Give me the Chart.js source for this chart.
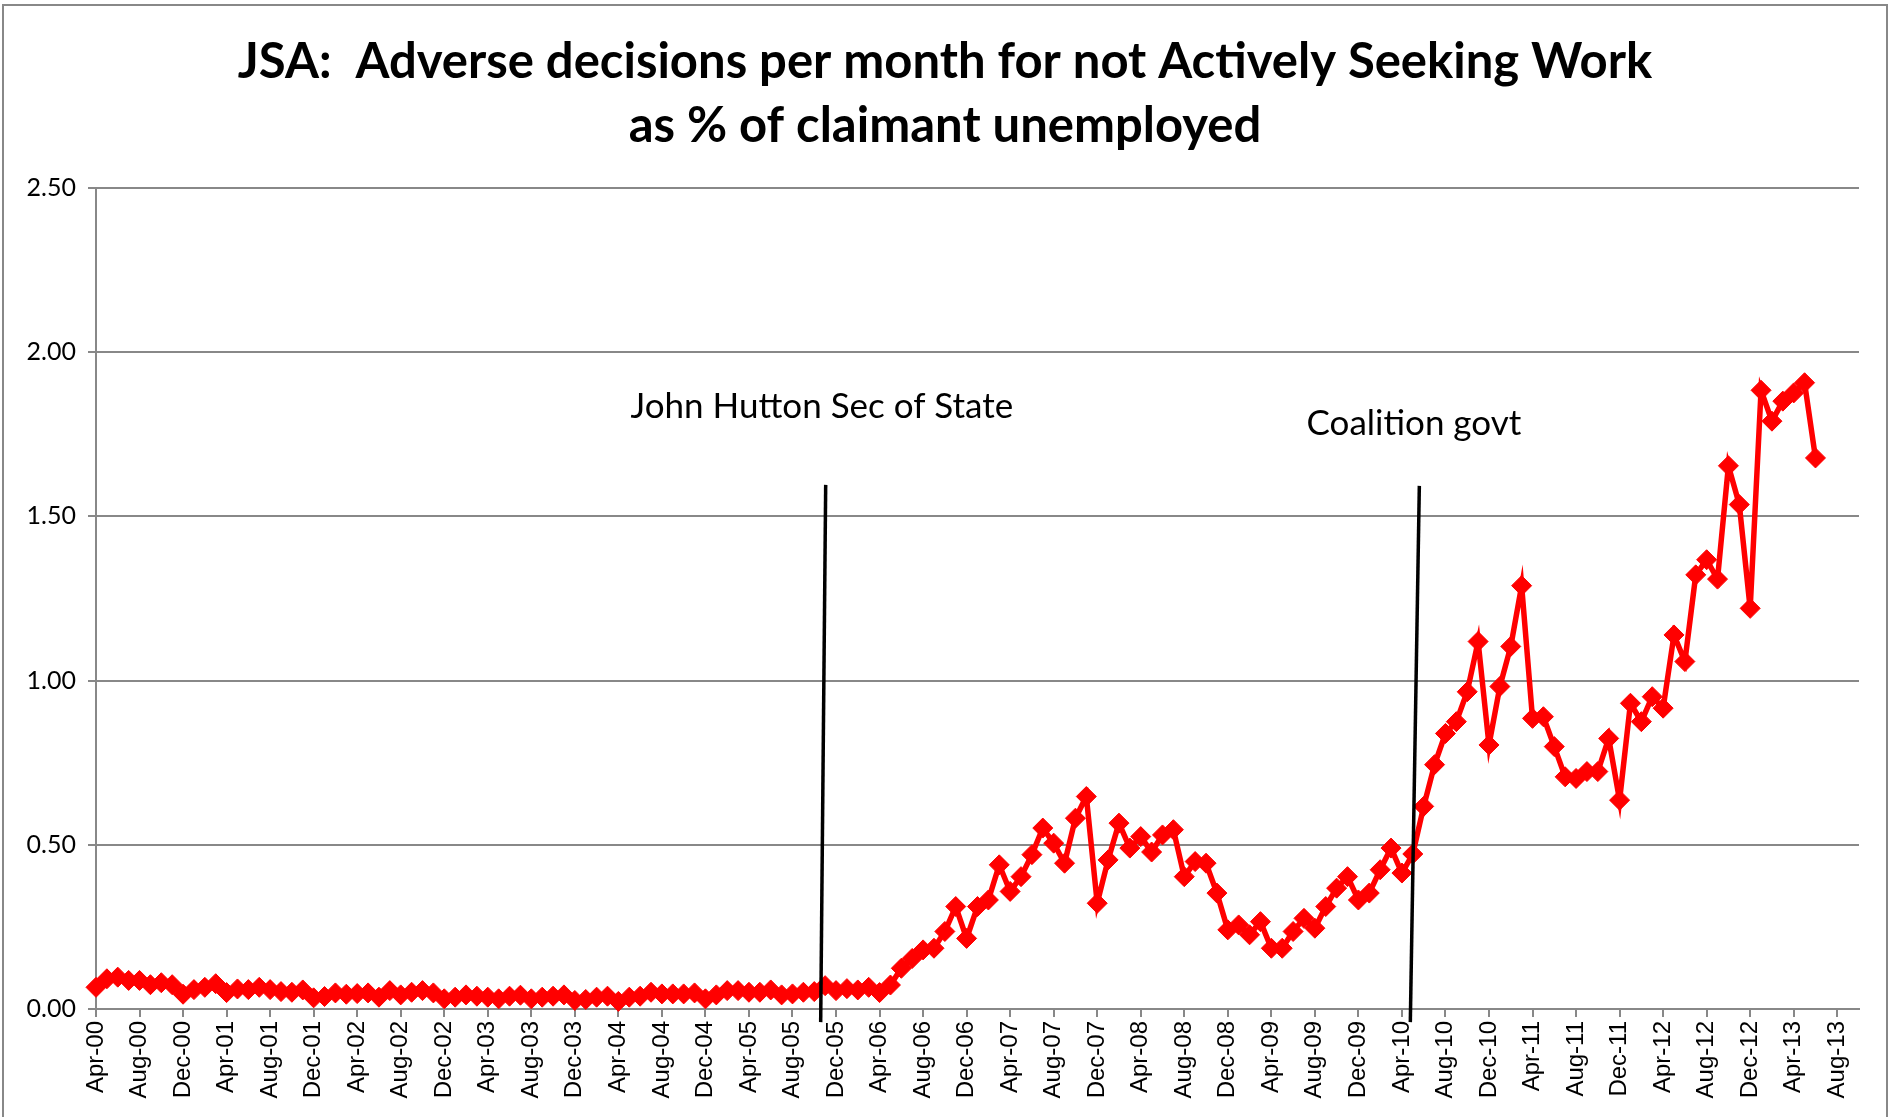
<!DOCTYPE html>
<html>
<head>
<meta charset="utf-8">
<title>JSA adverse decisions</title>
<script src="https://cdn.jsdelivr.net/npm/chart.js@4.4.1/dist/chart.umd.min.js"></script>
<style>
  html, body { margin: 0; padding: 0; background: #fff; }
  #wrap { position: relative; width: 1890px; height: 1117px; }
</style>
</head>
<body>
<div id="wrap"><canvas id="chart"></canvas></div>
<script>
// months run Apr-00 .. Oct-13, data stops at Jun-13
var monthNames = ['Jan','Feb','Mar','Apr','May','Jun','Jul','Aug','Sep','Oct','Nov','Dec'];
var firstYear = 2000, firstMonth = 3;   // Apr 2000
var lastYear = 2013, lastMonth = 9;     // Oct 2013

var adverseRate = [
  0.066, 0.092, 0.097, 0.087, 0.087, 0.074, 0.080, 0.074, 0.045, 0.059, 0.066, 0.077,
  0.050, 0.061, 0.059, 0.066, 0.059, 0.053, 0.051, 0.058, 0.034, 0.038, 0.049, 0.045,
  0.047, 0.049, 0.036, 0.056, 0.043, 0.051, 0.056, 0.049, 0.031, 0.036, 0.043, 0.039,
  0.036, 0.031, 0.039, 0.042, 0.031, 0.036, 0.039, 0.043, 0.026, 0.029, 0.036, 0.039,
  0.023, 0.036, 0.039, 0.051, 0.046, 0.046, 0.046, 0.049, 0.031, 0.043, 0.056, 0.056,
  0.051, 0.051, 0.058, 0.043, 0.046, 0.051, 0.053, 0.071, 0.056, 0.062, 0.058, 0.066,
  0.050, 0.073, 0.124, 0.154, 0.180, 0.185, 0.236, 0.312, 0.215, 0.312, 0.332, 0.439,
  0.358, 0.403, 0.470, 0.551, 0.505, 0.444, 0.581, 0.647, 0.322, 0.454, 0.566, 0.490,
  0.525, 0.478, 0.530, 0.546, 0.403, 0.449, 0.444, 0.353, 0.241, 0.256, 0.226, 0.266,
  0.185, 0.185, 0.236, 0.276, 0.246, 0.312, 0.368, 0.403, 0.332, 0.353, 0.424, 0.490,
  0.414, 0.472, 0.617, 0.744, 0.839, 0.875, 0.966, 1.119, 0.804, 0.982, 1.104, 1.289,
  0.885, 0.890, 0.799, 0.707, 0.702, 0.723, 0.723, 0.824, 0.636, 0.931, 0.875, 0.951,
  0.916, 1.139, 1.058, 1.322, 1.368, 1.309, 1.654, 1.536, 1.220, 1.884, 1.790, 1.851,
  1.876, 1.907, 1.678
];

var yTicks = [0, 0.5, 1.0, 1.5, 2.0, 2.5];

var titleLines = ['JSA:  Adverse decisions per month for not Actively Seeking Work', 'as % of claimant unemployed'];

// text + line markers, placed in axis units (month index, value)
var notes = [
  { text: 'John Hutton Sec of State', at: [66.7, 1.833], top: [67.05, 1.596], bottom: [66.59, -0.04] },
  { text: 'Coalition govt',           at: [121.1, 1.781], top: [121.6, 1.593], bottom: [120.77, -0.04] }
];

var labels = [];
for (var y = firstYear; y <= lastYear; y++) {
  for (var m = 0; m < 12; m++) {
    if (y === firstYear && m < firstMonth) continue;
    if (y === lastYear && m > lastMonth) continue;
    labels.push(monthNames[m] + '-' + String(y).slice(2));
  }
}

var GRID = '#888888';

// white background, outer frame and the title centred on the whole canvas
var frame = {
  id: 'frame',
  beforeDraw: function(chart) {
    var ctx = chart.ctx;
    ctx.save();
    ctx.fillStyle = '#fff';
    ctx.fillRect(0, 0, chart.width, chart.height);
    ctx.strokeStyle = GRID;
    ctx.lineWidth = 2;
    ctx.strokeRect(3, 5, chart.width - 6, chart.height + 40);
    ctx.fillStyle = '#000';
    ctx.font = 'bold 49px Lato';
    ctx.textAlign = 'center';
    ctx.textBaseline = 'middle';
    titleLines.forEach(function(t, i) {
      ctx.fillText(t, chart.width / 2, 62 + i * 64);
    });
    ctx.restore();
  }
};

var noteDrawer = {
  id: 'notes',
  afterDatasetsDraw: function(chart) {
    var ctx = chart.ctx, xs = chart.scales.x, ys = chart.scales.y;
    ctx.save();
    notes.forEach(function(n) {
      ctx.strokeStyle = '#000';
      ctx.lineWidth = 3.5;
      ctx.beginPath();
      ctx.moveTo(xs.getPixelForValue(n.top[0]), ys.getPixelForValue(n.top[1]));
      ctx.lineTo(xs.getPixelForValue(n.bottom[0]), ys.getPixelForValue(n.bottom[1]));
      ctx.stroke();
      ctx.fillStyle = '#000';
      ctx.font = '35px Lato';
      ctx.textAlign = 'center';
      ctx.textBaseline = 'middle';
      ctx.fillText(n.text, xs.getPixelForValue(n.at[0]), ys.getPixelForValue(n.at[1]));
    });
    ctx.restore();
  }
};

new Chart(document.getElementById('chart'), {
  type: 'line',
  data: {
    labels: labels,
    datasets: [{
      label: 'Adverse decisions ASW %',
      data: adverseRate,
      borderColor: '#ff0000',
      backgroundColor: '#ff0000',
      borderWidth: 5.5,
      pointStyle: 'rectRot',
      pointRadius: 10,
      pointBorderWidth: 1,
      pointBackgroundColor: '#ff0000',
      pointBorderColor: '#ff0000',
      tension: 0,
      clip: false
    }]
  },
  options: {
    responsive: true,
    maintainAspectRatio: false,
    animation: false,
    layout: { padding: { left: 0, right: 31, top: 188, bottom: 0 } },
    plugins: {
      legend: { display: false },
      tooltip: { enabled: false },
      title: { display: false }
    },
    scales: {
      x: {
        offset: false,
        grid: { display: true, drawOnChartArea: false, drawTicks: true, tickLength: 8, color: GRID, lineWidth: 2 },
        border: { display: true, color: GRID, width: 2 },
        ticks: {
          autoSkip: false,
          minRotation: 90,
          maxRotation: 90,
          padding: 4,
          color: '#000',
          font: { family: 'Liberation Sans', size: 24 },
          callback: function(val, index) {
            return index % 4 === 0 ? this.getLabelForValue(val) : null;
          }
        },
        afterFit: function(scale) { scale.height = 108; }
      },
      y: {
        min: 0,
        max: 2.5,
        afterBuildTicks: function(scale) {
          scale.ticks = yTicks.map(function(v) { return { value: v }; });
        },
        grid: { color: GRID, lineWidth: 2, tickLength: 8 },
        border: { display: true, color: GRID, width: 2 },
        ticks: {
          padding: 12,
          color: '#000',
          font: { family: 'Lato', size: 25 },
          callback: function(v) { return Number(v).toFixed(2); }
        },
        afterFit: function(scale) { scale.width = 96; }
      }
    }
  },
  plugins: [frame, noteDrawer]
});
</script>
</body>
</html>
